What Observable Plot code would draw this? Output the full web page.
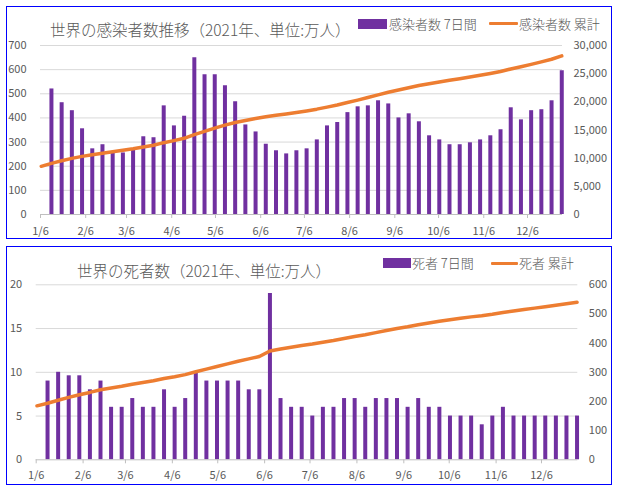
<!DOCTYPE html>
<html>
<head>
<meta charset="utf-8">
<script src="https://cdn.jsdelivr.net/npm/d3@7"></script>
<script src="https://cdn.jsdelivr.net/npm/@observablehq/plot@0.6"></script>
<style>
  body { margin: 0; background: #fff; width: 618px; height: 489px; position: relative; overflow: hidden;
         font-family: "Noto Sans CJK JP", "Noto Sans", sans-serif; color: #595959; }
  .panel { position: absolute; border: 1px solid #0000ff; box-sizing: border-box; }
  .layer { position: absolute; left: 0; }
  .title { position: absolute; font-size: 15.5px; line-height: 20px; white-space: nowrap; font-weight: 300; }
  .legend { position: absolute; font-size: 13px; line-height: 18px; white-space: nowrap; font-weight: 300; }
  .sw-bar { position: absolute; background: #7030a0; }
  .sw-line { position: absolute; height: 3px; background: #ed7d31; border-radius: 1px; }
</style>
</head>
<body>
<div class="panel" style="left:6px;top:6px;width:606px;height:233px"></div>
<div class="panel" style="left:6px;top:246px;width:606px;height:239px"></div>

<div class="title" style="left:50px;top:19px">世界の感染者数推移（2021年、単位:万人）</div>
<div class="sw-bar" style="left:358px;top:19px;width:29px;height:10px"></div>
<div class="legend" style="left:389px;top:15px">感染者数 7日間</div>
<div class="sw-line" style="left:489px;top:22px;width:29px"></div>
<div class="legend" style="left:519px;top:15px">感染者数 累計</div>

<div class="title" style="left:77px;top:260px">世界の死者数（2021年、単位:万人）</div>
<div class="sw-bar" style="left:383px;top:258px;width:28px;height:10px"></div>
<div class="legend" style="left:412px;top:254px">死者 7日間</div>
<div class="sw-line" style="left:491px;top:262px;width:27px"></div>
<div class="legend" style="left:519px;top:254px">死者 累計</div>

<script>
// Week ending dates (Wednesdays, 2021)
const weeks = [
  "01-06","01-13","01-20","01-27","02-03","02-10","02-17","02-24",
  "03-03","03-10","03-17","03-24","03-31","04-07","04-14","04-21","04-28",
  "05-05","05-12","05-19","05-26","06-02","06-09","06-16","06-23","06-30",
  "07-07","07-14","07-21","07-28","08-04","08-11","08-18","08-25",
  "09-01","09-08","09-15","09-22","09-29","10-06","10-13","10-20","10-27",
  "11-03","11-10","11-17","11-24","12-01","12-08","12-15","12-22","12-29"
];

// Month tick labels on the date axis
const tickLabels = ["1/6","2/6","3/6","4/6","5/6","6/6","7/6","8/6","9/6","10/6","11/6","12/6"];

// New cases per 7 days (万人), weeks 01-13 … 12-29
const casesWeekly = [
  520, 463, 430, 355, 272, 289, 258, 255, 269, 322,
  318, 450, 367, 407, 649, 579, 579, 533, 467, 371,
  342, 291, 264, 251, 264, 272, 309, 367, 381, 422,
  446, 450, 471, 458, 400, 417, 384, 326, 309, 289,
  289, 297, 309, 326, 351, 442, 392, 430, 434, 471, 595
];

// Cumulative cases (万人), weeks 01-06 … 12-29
const casesTotal = [
  8550, 9070, 9530, 9960, 10320, 10590, 10880, 11140, 11390, 11660,
  11980, 12300, 12750, 13120, 13530, 14170, 14750, 15330, 15870, 16330,
  16700, 17050, 17340, 17600, 17850, 18120, 18390, 18700, 19060, 19440,
  19870, 20310, 20760, 21230, 21690, 22090, 22510, 22890, 23220, 23530,
  23820, 24110, 24400, 24710, 25040, 25390, 25830, 26220, 26650, 27090,
  27560, 28150
];

// Deaths per 7 days (万人), weeks 01-13 … 12-29
const deathsWeekly = [
  9, 10, 9.6, 9.6, 8, 9, 6, 6, 7, 6, 6, 8, 6, 7, 10, 9,
  9, 9, 9, 8, 8, 19, 7, 6, 6, 5, 6, 6, 7, 7, 6, 7,
  7, 7, 6, 7, 6, 6, 5, 5, 5, 4, 5, 6, 5, 5, 5, 5, 5, 5, 5
];

// Cumulative deaths (万人), weeks 01-06 … 12-29
const deathsTotal = [
  185, 194, 204, 214, 223, 231, 240, 246, 252, 259,
  265, 271, 279, 285, 292, 302, 311, 320, 329, 338,
  346, 354, 373, 380, 386, 392, 397, 403, 409, 416,
  423, 429, 436, 443, 450, 456, 463, 469, 475, 480,
  485, 490, 494, 499, 505, 510, 515, 520, 525, 530,
  535, 540
];

const PURPLE = "#7030a0", ORANGE = "#ed7d31", GRID = "#d9d9d9", AXIS = "#bfbfbf", TEXT = "#595959";
const FONT = "'Noto Sans CJK JP', 'Noto Sans', sans-serif";

const toDate = s => new Date(`2021-${s}T00:00:00Z`);
const dates = weeks.map(toDate);
const monthTicks = tickLabels.map(s => { const [m, d] = s.split("/").map(Number); return new Date(Date.UTC(2021, m - 1, d)); });
const fmtTick = d => `${d.getUTCMonth() + 1}/${d.getUTCDate()}`;
const mid = d => d3.utcHour.offset(d, 12);   // centre each point within its day
const xDomain = [toDate("01-06"), toDate("12-30")];

function draw(cfg) {
  const base = {
    width: 618, height: cfg.height,
    marginLeft: cfg.mL, marginRight: cfg.mR, marginTop: cfg.mT, marginBottom: cfg.mB,
    style: { background: "transparent", color: TEXT, fontFamily: FONT, fontSize: "11px", overflow: "visible" }
  };
  const barData = cfg.weekly.map((v, i) => ({ date: dates[i + 1], value: v }));
  const lineData = cfg.total.map((v, i) => ({ date: dates[i], value: v }));

  const bars = Plot.plot({
    ...base,
    x: { type: "utc", domain: xDomain, axis: null },
    y: { domain: [0, cfg.leftMax], axis: null },
    marks: [
      Plot.gridY(cfg.leftTicks.filter(t => t > 0), { stroke: GRID, strokeOpacity: 1 }),
      Plot.ruleX(barData, { x: d => mid(d.date), y1: 0, y2: "value", stroke: PURPLE, strokeWidth: 4 }),
      Plot.ruleY([0], { stroke: AXIS }),
      Plot.axisX(monthTicks, { tickFormat: fmtTick, tickSize: 4, tickPadding: cfg.xPad, stroke: AXIS, fill: TEXT, label: null }),
      Plot.axisY(cfg.leftTicks, { tickSize: 0, tickPadding: 14, fill: TEXT, label: null })
    ]
  });

  const line = Plot.plot({
    ...base,
    x: { type: "utc", domain: xDomain, axis: null },
    y: { domain: [0, cfg.rightMax], axis: null },
    marks: [
      Plot.line(lineData, { x: d => mid(d.date), y: "value", stroke: ORANGE, strokeWidth: 3.5, strokeLinejoin: "round" }),
      Plot.axisY(cfg.rightTicks, { anchor: "right", tickSize: 0, tickPadding: 11, tickFormat: d3.format(","), fill: TEXT, label: null })
    ]
  });

  for (const svg of [bars, line]) {
    svg.classList.add("layer");
    svg.style.top = cfg.top + "px";
    document.body.appendChild(svg);
  }
}

draw({
  top: 30, height: 208, mL: 40, mR: 56, mT: 15, mB: 24, xPad: 9,
  weekly: casesWeekly, total: casesTotal,
  leftMax: 700, leftTicks: d3.range(0, 701, 100),
  rightMax: 30000, rightTicks: d3.range(0, 30001, 5000)
});

draw({
  top: 270, height: 212, mL: 35.7, mR: 40.7, mT: 14.3, mB: 22.7, xPad: 7,
  weekly: deathsWeekly, total: deathsTotal,
  leftMax: 20, leftTicks: d3.range(0, 21, 5),
  rightMax: 600, rightTicks: d3.range(0, 601, 100)
});
</script>
</body>
</html>
